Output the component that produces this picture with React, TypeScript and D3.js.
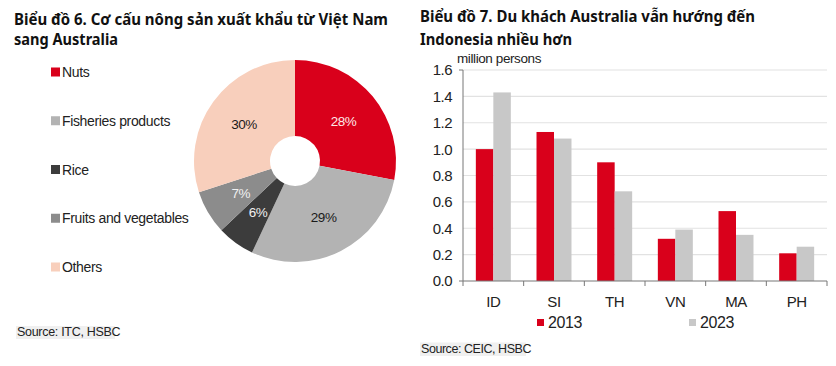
import React from "react";
import * as d3 from "d3";

const pieCategories = ["Nuts", "Fisheries products", "Rice", "Fruits and vegetables", "Others"];
const pieValues = [28, 29, 6, 7, 30];
const pieColors = ["#d9001b", "#b3b3b3", "#3c3c3c", "#8c8c8c", "#f8cfbc"];
const pieLabelColors = ["#fde8e8", "#1a1a1a", "#f0f0f0", "#f0f0f0", "#1a1a1a"];

const barCategories = ["ID", "SI", "TH", "VN", "MA", "PH"];
const seriesNames = ["2013", "2023"];
const values2013 = [1.0, 1.13, 0.9, 0.32, 0.53, 0.21];
const values2023 = [1.43, 1.08, 0.68, 0.39, 0.35, 0.26];
const barColors = ["#d9001b", "#c8c8c8"];
const yTicks = [0, 0.2, 0.4, 0.6, 0.8, 1.0, 1.2, 1.4, 1.6];

const titleFont = "'Noto Sans', sans-serif";
const bodyFont = "'Liberation Sans', Arial, sans-serif";

function Title({ x, y, w, children }: { x: number; y: number; w: number; children: string }) {
  return (
    <text x={x} y={y} fontFamily={titleFont} fontWeight={700} fontSize={16.5} fill="#111" textLength={w} lengthAdjust="spacingAndGlyphs">
      {children}
    </text>
  );
}

function PieChart() {
  const cx = 295, cy = 161;
  const pie = d3.pie<number>().sort(null).value((d) => d);
  const arcs = pie(pieValues);
  const arc = d3.arc<d3.PieArcDatum<number>>().innerRadius(25).outerRadius(101);
  const legendY = d3.scalePoint<string>().domain(pieCategories).range([72, 267]);
  return (
    <g>
      <Title x={14} y={25} w={374}>Biểu đồ 6. Cơ cấu nông sản xuất khẩu từ Việt Nam</Title>
      <Title x={14} y={45} w={104}>sang Australia</Title>
      {pieCategories.map((c, i) => (
        <g key={c}>
          <rect x={51} y={(legendY(c) as number) - 4.5} width={9} height={9} fill={pieColors[i]} />
          <text x={62} y={(legendY(c) as number) + 5} fontFamily={bodyFont} fontSize={14} fill="#222" letterSpacing={-0.35}>
            {c}
          </text>
        </g>
      ))}
      <g transform={`translate(${cx},${cy})`}>
        {arcs.map((a, i) => (
          <path key={i} d={arc(a) || ""} fill={pieColors[i]} />
        ))}
        {arcs.map((a, i) => {
          const [lx, ly] = arc.centroid(a);
          return (
            <text key={"l" + i} x={lx} y={ly} dy="0.35em" textAnchor="middle" fontFamily={bodyFont} fontSize={13.5} fill={pieLabelColors[i]} letterSpacing={-0.4}>
              {pieValues[i]}%
            </text>
          );
        })}
      </g>
      <rect x={16} y={326} width={99} height={13} fill="#f0f0f0" />
      <text x={17} y={336} fontFamily={bodyFont} fontSize={12.5} fill="#222" letterSpacing={-0.3}>
        Source: ITC, HSBC
      </text>
    </g>
  );
}

function BarChart() {
  const left = 463, right = 827, top = 70, bottom = 281;
  const x0 = d3.scaleBand<string>().domain(barCategories).range([left, right]).paddingInner(0).paddingOuter(0);
  const x1 = d3.scaleBand<string>().domain(seriesNames).range([0, x0.bandwidth()]).paddingInner(0).paddingOuter(0.734);
  const y = d3.scaleLinear().domain([0, 1.6]).range([bottom, top]);
  const series = [values2013, values2023];
  const boundaries = barCategories.map((c) => x0(c) as number).concat([right]);
  return (
    <g>
      <Title x={420} y={22} w={335}>Biểu đồ 7. Du khách Australia vẫn hướng đến</Title>
      <Title x={420} y={45} w={152}>Indonesia nhiều hơn</Title>
      {yTicks.filter((t) => t > 0).map((t) => (
        <line key={t} x1={left} x2={right} y1={y(t)} y2={y(t)} stroke="#e2e2e2" strokeWidth={1.2} />
      ))}
      {yTicks.map((t) => (
        <text key={"t" + t} x={452} y={y(t)} dy="0.36em" textAnchor="end" fontFamily={bodyFont} fontSize={15} fill="#222" letterSpacing={-0.5}>
          {d3.format(".1f")(t)}
        </text>
      ))}
      <text x={457} y={63} fontFamily={bodyFont} fontSize={13.5} fill="#222" letterSpacing={-0.4}>
        million persons
      </text>
      {series.map((vals, si) =>
        barCategories.map((c, ci) => (
          <rect
            key={si + "-" + c}
            x={(x0(c) as number) + (x1(seriesNames[si]) as number)}
            y={y(vals[ci])}
            width={x1.bandwidth()}
            height={bottom - y(vals[ci])}
            fill={barColors[si]}
          />
        ))
      )}
      <line x1={left} x2={left} y1={top} y2={bottom} stroke="#777" strokeWidth={1} />
      <line x1={left - 4} x2={left} y1={top} y2={top} stroke="#777" strokeWidth={1} />
      <line x1={left - 4} x2={right} y1={bottom} y2={bottom} stroke="#777" strokeWidth={1} />
      {boundaries.map((b, i) => (
        <line key={"b" + i} x1={b} x2={b} y1={bottom} y2={bottom + 5} stroke="#777" strokeWidth={1} />
      ))}
      {barCategories.map((c) => (
        <text key={"c" + c} x={(x0(c) as number) + x0.bandwidth() / 2} y={307} textAnchor="middle" fontFamily={bodyFont} fontSize={15} fill="#222" letterSpacing={-0.4}>
          {c}
        </text>
      ))}
      {seriesNames.map((s, i) => {
        const lx = [537, 689][i];
        return (
          <g key={"lg" + s}>
            <rect x={lx} y={319} width={7} height={7} fill={barColors[i]} />
            <text x={lx + 11} y={327.5} fontFamily={bodyFont} fontSize={16} fill="#222" letterSpacing={-0.4}>
              {s}
            </text>
          </g>
        );
      })}
      <rect x={420} y={342.5} width={106} height={13.5} fill="#f0f0f0" />
      <text x={421} y={353} fontFamily={bodyFont} fontSize={12.5} fill="#222" letterSpacing={-0.45}>
        Source: CEIC, HSBC
      </text>
    </g>
  );
}

export default function App() {
  return (
    <svg width={836} height={366} style={{ position: "absolute", left: 0, top: 0, background: "#fff" }}>
      <rect width={836} height={366} fill="#fff" />
      <PieChart />
      <BarChart />
    </svg>
  );
}
